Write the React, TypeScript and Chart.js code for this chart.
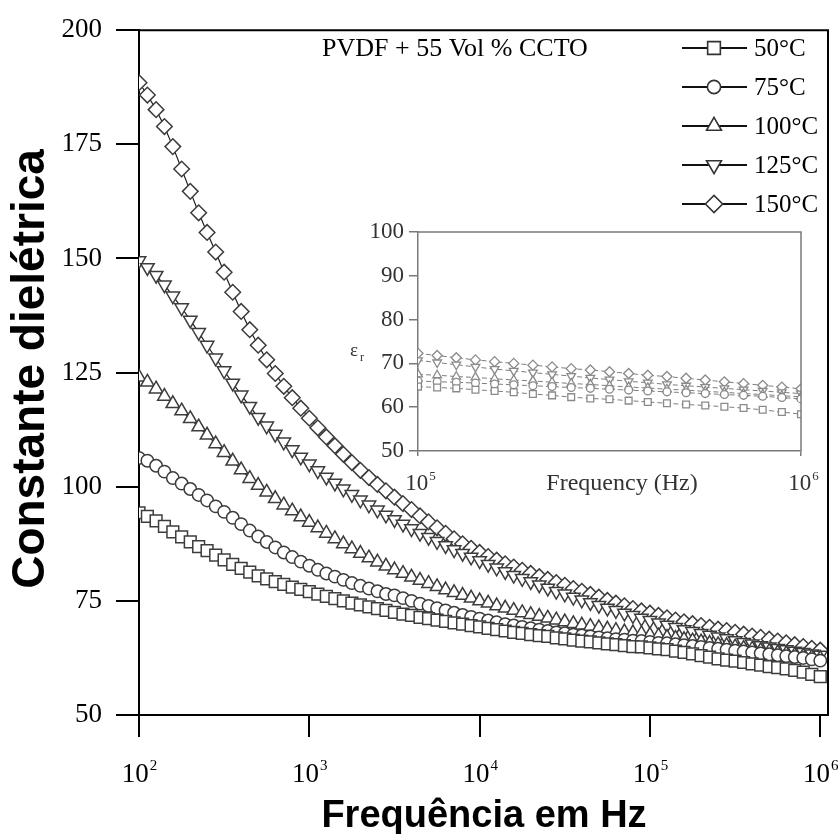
import React, { useEffect, useRef } from 'react';
import { Chart, registerables } from 'chart.js';

Chart.register(...registerables);

// ---------- DATA ----------
const frequencies = [
  100, 112, 126, 141, 158, 178, 200, 224, 251, 282, 316, 355, 398, 447, 501, 562, 631, 708, 794, 891,
  1000, 1122, 1259, 1413, 1585, 1778, 1995, 2239, 2512, 2818, 3162, 3548, 3981, 4467, 5012, 5623, 6310, 7079, 7943, 8913,
  10000, 11220, 12589, 14125, 15849, 17783, 19953, 22387, 25119, 28184, 31623, 35481, 39811, 44668, 50119, 56234, 63096, 70795, 79433, 89125,
  100000, 112202, 125893, 141254, 158489, 177828, 199526, 223872, 251189, 281838, 316228, 354813, 398107, 446684, 501187, 562341, 630957, 707946, 794328, 891251,
  1000000,
];

const eps50 = [
  94.3, 93.5, 92.5, 91.3, 90.1, 89.0, 87.9, 86.9, 86.0, 85.0,
  84.0, 83.0, 82.1, 81.3, 80.5, 79.8, 79.2, 78.6, 78.0, 77.5,
  77.0, 76.5, 76.0, 75.5, 75.0, 74.5, 74.1, 73.7, 73.3, 72.9,
  72.5, 72.1, 71.8, 71.4, 71.1, 70.8, 70.5, 70.2, 69.9, 69.6,
  69.3, 69.0, 68.7, 68.4, 68.1, 67.9, 67.6, 67.4, 67.2, 66.9,
  66.7, 66.4, 66.2, 66.0, 65.8, 65.6, 65.4, 65.2, 65.0, 64.9,
  64.7, 64.5, 64.3, 64.0, 63.7, 63.4, 63.0, 62.7, 62.3, 62.0,
  61.8, 61.5, 61.2, 60.9, 60.6, 60.4, 60.1, 59.8, 59.4, 58.9,
  58.4,
];

const eps75 = [
  106.3, 105.7, 104.6, 103.3, 101.9, 100.7, 99.5, 98.2, 97.0, 95.7,
  94.5, 93.2, 91.8, 90.4, 89.1, 87.9, 86.7, 85.6, 84.6, 83.6,
  82.7, 81.8, 81.0, 80.3, 79.6, 78.9, 78.3, 77.7, 77.1, 76.5,
  76.2, 75.6, 75.0, 74.4, 73.9, 73.4, 72.9, 72.4, 71.9, 71.5,
  71.1, 70.7, 70.3, 69.9, 69.6, 69.3, 69.0, 68.7, 68.4, 68.1,
  67.9, 67.6, 67.4, 67.2, 67.0, 66.8, 66.6, 66.5, 66.3, 66.2,
  66.0, 65.8, 65.7, 65.5, 65.3, 65.1, 64.9, 64.7, 64.5, 64.3,
  64.1, 63.9, 63.7, 63.5, 63.3, 63.1, 62.9, 62.7, 62.5, 62.2,
  61.9,
];

const eps100 = [
  124.0, 122.9, 121.4, 119.8, 118.2, 116.6, 114.9, 113.1, 111.3, 109.4,
  107.5, 105.6, 103.7, 101.8, 100.3, 98.8, 97.4, 96.0, 94.7, 93.4,
  92.2, 91.0, 89.8, 88.6, 87.5, 86.4, 85.4, 84.4, 83.5, 82.6,
  81.8, 81.0, 80.2, 79.5, 78.8, 78.1, 77.4, 76.8, 76.2, 75.6,
  75.0, 74.5, 73.9, 73.4, 72.9, 72.4, 72.0, 71.6, 71.2, 70.8,
  70.4, 70.0, 69.7, 69.4, 69.1, 68.8, 68.5, 68.2, 68.0, 67.8,
  67.5, 67.3, 67.0, 66.8, 66.5, 66.2, 66.0, 65.7, 65.4, 65.2,
  64.9, 64.6, 64.4, 64.1, 63.9, 63.6, 63.4, 63.1, 62.9, 62.6,
  62.4,
];

const eps125 = [
  149.5, 148.0, 146.3, 144.2, 141.8, 139.2, 136.5, 133.8, 131.0, 128.2,
  125.4, 122.7, 120.1, 117.6, 115.2, 113.3, 111.5, 109.8, 108.1, 106.5,
  105.0, 103.5, 102.1, 100.8, 99.5, 98.3, 97.1, 96.0, 94.9, 93.8,
  92.8, 91.8, 90.8, 89.8, 88.9, 88.0, 87.1, 86.2, 85.4, 84.6,
  83.8, 83.0, 82.2, 81.4, 80.6, 79.9, 79.2, 78.5, 77.8, 77.1,
  76.5, 75.8, 75.2, 74.6, 74.0, 73.4, 72.9, 72.3, 71.8, 71.2,
  70.7, 70.2, 69.7, 69.2, 68.7, 68.3, 67.9, 67.5, 67.1, 66.7,
  66.3, 65.9, 65.6, 65.2, 64.9, 64.6, 64.3, 64.0, 63.7, 63.4,
  63.1,
];

const eps150 = [
  188.5, 185.8, 182.6, 178.9, 174.5, 169.6, 164.7, 160.0, 155.7, 151.4,
  147.0, 142.6, 138.4, 134.4, 131.0, 127.8, 124.8, 122.0, 119.5, 117.2,
  115.0, 112.9, 110.9, 109.0, 107.1, 105.3, 103.6, 102.0, 100.5, 99.1,
  97.7, 96.3, 95.0, 93.6, 92.3, 91.0, 89.8, 88.6, 87.5, 86.5,
  85.6, 84.7, 83.9, 83.1, 82.4, 81.7, 81.0, 80.3, 79.7, 79.0,
  78.4, 77.7, 77.1, 76.4, 75.8, 75.1, 74.5, 73.9, 73.3, 72.8,
  72.3, 71.8, 71.3, 70.8, 70.4, 70.0, 69.6, 69.2, 68.8, 68.5,
  68.1, 67.7, 67.3, 67.0, 66.6, 66.2, 65.8, 65.4, 65.0, 64.6,
  64.2,
];

const seriesNames = ['50°C', '75°C', '100°C', '125°C', '150°C'];
const seriesValues = [eps50, eps75, eps100, eps125, eps150];
const xTickExponents = [2, 3, 4, 5, 6];
const insetXTickExponents = [5, 6];
const insetStartIndex = 60; // first point at 10^5
const annotationText = 'PVDF + 55 Vol % CCTO';
const xTitle = 'Frequência em Hz';
const yTitle = 'Constante dielétrica';
const insetXTitle = 'Frequency (Hz)';

// ---------- STYLES ----------
const pointStyles = ['rect', 'circle', 'triangle', 'triangle', 'rectRot'];
const pointRotations = [0, 0, 0, 180, 0];
const mainRadii = [8.3, 6.2, 7.8, 7.8, 7.8];
const legendRadii = [9, 6.6, 8.6, 8.6, 8.6];
const insetRadii = [4.8, 3.9, 5, 5, 5];

const SERIF = '"Liberation Serif", "DejaVu Serif", serif';
const SANS = '"Liberation Sans", Arial, sans-serif';

function drawShape(ctx: CanvasRenderingContext2D, style: string, rot: number, x: number, y: number, r: number) {
  ctx.beginPath();
  if (style === 'circle') {
    ctx.arc(x, y, r, 0, Math.PI * 2);
  } else if (style === 'rect') {
    const s = r * Math.SQRT1_2;
    ctx.rect(x - s, y - s, 2 * s, 2 * s);
  } else if (style === 'rectRot') {
    ctx.moveTo(x - r, y);
    ctx.lineTo(x, y - r);
    ctx.lineTo(x + r, y);
    ctx.lineTo(x, y + r);
    ctx.closePath();
  } else {
    let a = (rot * Math.PI) / 180;
    ctx.moveTo(x + Math.sin(a) * r, y - Math.cos(a) * r);
    a += (2 * Math.PI) / 3;
    ctx.lineTo(x + Math.sin(a) * r, y - Math.cos(a) * r);
    a += (2 * Math.PI) / 3;
    ctx.lineTo(x + Math.sin(a) * r, y - Math.cos(a) * r);
    ctx.closePath();
  }
  ctx.fillStyle = '#fff';
  ctx.fill();
  ctx.stroke();
}

function drawPower(ctx: CanvasRenderingContext2D, cx: number, baseY: number, exp: number, big: number, small: number, color: string) {
  ctx.save();
  ctx.fillStyle = color;
  ctx.textBaseline = 'alphabetic';
  ctx.textAlign = 'left';
  ctx.font = `${big}px ${SERIF}`;
  const w1 = ctx.measureText('10').width;
  ctx.font = `${small}px ${SERIF}`;
  const w2 = ctx.measureText(String(exp)).width;
  const x0 = cx - (w1 + w2) / 2;
  ctx.font = `${big}px ${SERIF}`;
  ctx.fillText('10', x0, baseY);
  ctx.font = `${small}px ${SERIF}`;
  ctx.fillText(String(exp), x0 + w1 + 1, baseY - big * 0.45);
  ctx.restore();
}

const mainDecor = {
  id: 'mainDecor',
  afterDraw(chart: any) {
    const { ctx, chartArea } = chart;
    const xs = chart.scales.x;
    ctx.save();
    // frame top & right
    ctx.strokeStyle = '#000';
    ctx.lineWidth = 2;
    ctx.beginPath();
    ctx.moveTo(chartArea.left, chartArea.top);
    ctx.lineTo(chartArea.right, chartArea.top);
    ctx.lineTo(chartArea.right, chartArea.bottom);
    ctx.stroke();

    // x tick labels
    xTickExponents.forEach((e) => {
      drawPower(ctx, xs.getPixelForValue(Math.pow(10, e)), chartArea.bottom + 67, e, 27, 15, '#000');
    });

    // titles
    ctx.fillStyle = '#000';
    ctx.font = `bold 38px ${SANS}`;
    ctx.textAlign = 'center';
    ctx.textBaseline = 'alphabetic';
    ctx.fillText(xTitle, 484, 827);

    ctx.save();
    ctx.translate(31, 369);
    ctx.rotate(-Math.PI / 2);
    ctx.font = `bold 46px ${SANS}`;
    ctx.textBaseline = 'middle';
    ctx.textAlign = 'center';
    ctx.fillText(yTitle, 0, 0);
    ctx.restore();

    // annotation
    ctx.font = `26px ${SERIF}`;
    ctx.textAlign = 'left';
    ctx.textBaseline = 'middle';
    ctx.fillText(annotationText, 322, 49);

    // legend
    const legendY = [48, 87, 126, 165, 204];
    seriesNames.forEach((name, i) => {
      const y = legendY[i];
      ctx.strokeStyle = '#111';
      ctx.lineWidth = 1.8;
      ctx.beginPath();
      ctx.moveTo(682, y);
      ctx.lineTo(747, y);
      ctx.stroke();
      ctx.strokeStyle = '#333';
      ctx.lineWidth = 1.6;
      drawShape(ctx, pointStyles[i], pointRotations[i], 714, y, legendRadii[i]);
      ctx.fillStyle = '#000';
      ctx.font = `25px ${SERIF}`;
      ctx.textAlign = 'left';
      ctx.textBaseline = 'middle';
      ctx.fillText(name, 754, y + 1);
    });
    ctx.restore();
  },
};

const insetDecor = {
  id: 'insetDecor',
  afterDraw(chart: any) {
    const { ctx, chartArea } = chart;
    const xs = chart.scales.x;
    ctx.save();
    ctx.strokeStyle = '#7a7a7a';
    ctx.lineWidth = 1.5;
    ctx.beginPath();
    ctx.moveTo(chartArea.left, chartArea.top);
    ctx.lineTo(chartArea.right, chartArea.top);
    ctx.lineTo(chartArea.right, chartArea.bottom);
    ctx.stroke();

    insetXTickExponents.forEach((e) => {
      drawPower(ctx, xs.getPixelForValue(Math.pow(10, e)) + 2, chartArea.bottom + 39, e, 23, 13, '#333');
    });

    ctx.fillStyle = '#333';
    ctx.font = `24px ${SERIF}`;
    ctx.textAlign = 'center';
    ctx.textBaseline = 'alphabetic';
    ctx.fillText(insetXTitle, 292, chartArea.bottom + 39);

    // epsilon_r
    ctx.textAlign = 'left';
    ctx.font = `19px ${SERIF}`;
    ctx.fillText('ε', 20, 146);
    ctx.font = `12px ${SERIF}`;
    ctx.fillText('r', 30, 151);
    ctx.restore();
  },
};

export default function App() {
  const mainRef = useRef<HTMLCanvasElement>(null);
  const insetRef = useRef<HTMLCanvasElement>(null);

  useEffect(() => {
    if (!mainRef.current || !insetRef.current) return;

    const mainChart = new Chart(mainRef.current, {
      type: 'line',
      data: {
        datasets: seriesValues.map((vals, i) => ({
          label: seriesNames[i],
          data: frequencies.map((f, k) => ({ x: f, y: vals[k] })),
          borderColor: '#1e1e1e',
          borderWidth: 1.2,
          pointStyle: pointStyles[i] as any,
          pointRotation: pointRotations[i],
          pointRadius: mainRadii[i],
          pointBorderColor: '#3c3c3c',
          pointBorderWidth: 1.5,
          pointBackgroundColor: '#fff',
          tension: 0,
          fill: false,
        })),
      },
      options: {
        animation: false,
        responsive: false,
        maintainAspectRatio: false,
        layout: { padding: { top: 27, right: 12, left: 0, bottom: 0 } },
        plugins: { legend: { display: false }, tooltip: { enabled: false } },
        scales: {
          x: {
            type: 'logarithmic',
            min: 100,
            max: 1.11e6,
            afterBuildTicks: (sc: any) => {
              sc.ticks = xTickExponents.map((e) => ({ value: Math.pow(10, e) }));
            },
            afterFit: (sc: any) => {
              sc.height = 119;
            },
            ticks: { display: false },
            grid: { display: true, drawOnChartArea: false, drawTicks: true, tickLength: 22, color: '#000', lineWidth: 2 },
            border: { display: true, color: '#000', width: 2 },
          },
          y: {
            type: 'linear',
            min: 50,
            max: 200,
            ticks: { stepSize: 25, color: '#000', font: { family: SERIF, size: 27 }, padding: 14 },
            afterFit: (sc: any) => {
              sc.width = 139;
            },
            grid: { display: true, drawOnChartArea: false, drawTicks: true, tickLength: 23, color: '#000', lineWidth: 2 },
            border: { display: true, color: '#000', width: 2 },
          },
        },
      },
      plugins: [mainDecor],
    });

    const insetChart = new Chart(insetRef.current, {
      type: 'line',
      data: {
        datasets: seriesValues.map((vals, i) => ({
          label: seriesNames[i],
          data: frequencies.slice(insetStartIndex).map((f, k) => ({ x: f, y: vals[insetStartIndex + k] })),
          borderColor: '#7d7d7d',
          borderWidth: 1,
          borderDash: [5, 3],
          pointStyle: pointStyles[i] as any,
          pointRotation: pointRotations[i],
          pointRadius: insetRadii[i],
          pointBorderColor: '#8a8a8a',
          pointBorderWidth: 1.3,
          pointBackgroundColor: '#fff',
          tension: 0,
          fill: false,
        })),
      },
      options: {
        animation: false,
        responsive: false,
        maintainAspectRatio: false,
        layout: { padding: { top: 22, right: 19, left: 0, bottom: 0 } },
        plugins: { legend: { display: false }, tooltip: { enabled: false } },
        scales: {
          x: {
            type: 'logarithmic',
            min: 1e5,
            max: 1e6,
            afterBuildTicks: (sc: any) => {
              sc.ticks = insetXTickExponents.map((e) => ({ value: Math.pow(10, e) }));
            },
            afterFit: (sc: any) => {
              sc.height = 54;
            },
            ticks: { display: false },
            grid: { display: true, drawOnChartArea: false, drawTicks: true, tickLength: 5, color: '#7a7a7a', lineWidth: 1.5 },
            border: { display: true, color: '#7a7a7a', width: 1.5 },
          },
          y: {
            type: 'linear',
            min: 50,
            max: 100,
            ticks: { stepSize: 10, color: '#333', font: { family: SERIF, size: 23 }, padding: 5 },
            afterFit: (sc: any) => {
              sc.width = 88;
            },
            grid: { display: true, drawOnChartArea: false, drawTicks: true, tickLength: 9, color: '#7a7a7a', lineWidth: 1.5 },
            border: { display: true, color: '#7a7a7a', width: 1.5 },
          },
        },
      },
      plugins: [insetDecor],
    });

    return () => {
      mainChart.destroy();
      insetChart.destroy();
    };
  }, []);

  return (
    <div style={{ position: 'fixed', left: 0, top: 0, width: 840, height: 834, background: '#fff' }}>
      <canvas ref={mainRef} width={840} height={834} style={{ position: 'absolute', left: 0, top: 0, width: 840, height: 834 }} />
      <canvas
        ref={insetRef}
        width={490}
        height={295}
        style={{ position: 'absolute', left: 330, top: 210, width: 490, height: 295, pointerEvents: 'none' }}
      />
    </div>
  );
}
